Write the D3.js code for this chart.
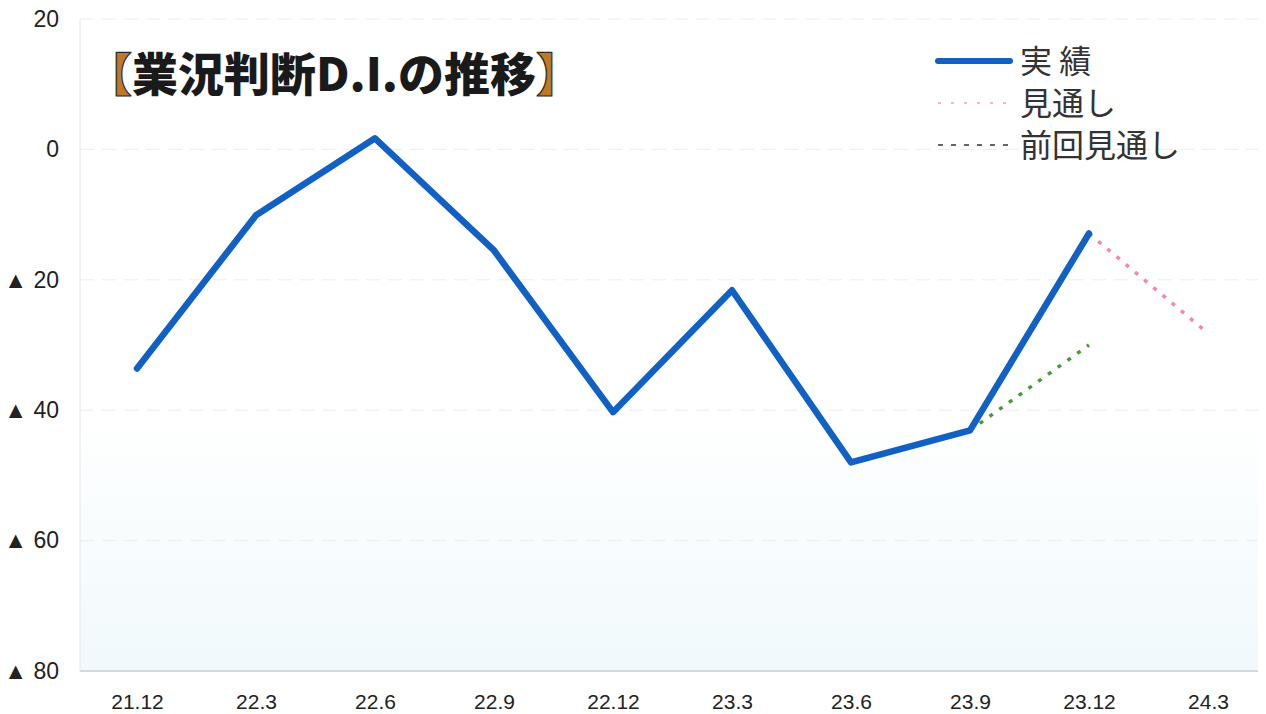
<!DOCTYPE html>
<html><head><meta charset="utf-8">
<script src="https://cdn.jsdelivr.net/npm/d3@7"></script>
<style>body{margin:0;background:#fff}svg{display:block}</style>
</head><body>
<script>
const categories = ["21.12","22.3","22.6","22.9","22.12","23.3","23.6","23.9","23.12","24.3"];
const actual = [-33.6,-10.1,1.7,-15.5,-40.3,-21.6,-48.0,-43.1,-12.9,null];
const outlook = [null,null,null,null,null,null,null,null,-12.9,-28.2];
const prevOutlook = [null,null,null,null,null,null,null,-43.1,-30.0,null];
const yTicks = [20,0,-20,-40,-60,-80];
const legendLabels = ["実 績","見通し","前回見通し"];

const W=1266,H=714;
const svg=d3.select("body").append("svg").attr("width",W).attr("height",H);
const m={l:80,r:8,t:19,b:43};
const x=d3.scalePoint().domain(categories).range([137,1208]);
const y=d3.scaleLinear().domain([-80,20]).range([671,19]);

const defs=svg.append("defs");
const g=defs.append("linearGradient").attr("id","bg").attr("x1",0).attr("y1",0).attr("x2",0).attr("y2",1);
g.append("stop").attr("offset","0%").attr("stop-color","#ffffff");
g.append("stop").attr("offset","60%").attr("stop-color","#ffffff");
g.append("stop").attr("offset","100%").attr("stop-color","#f1f9fc");
svg.append("rect").attr("x",m.l).attr("y",y(20)).attr("width",W-m.l-m.r).attr("height",y(-80)-y(20)).attr("fill","url(#bg)");

// grid
svg.append("g").selectAll("line").data(yTicks).join("line")
  .attr("x1",m.l).attr("x2",W-m.r).attr("y1",d=>y(d)).attr("y2",d=>y(d))
  .attr("stroke",d=>d===-80?"#cccccc":"#ededed").attr("stroke-width",d=>d===-80?1.5:1)
  .attr("stroke-dasharray",d=>d===-80?null:"14,8");
svg.append("line").attr("x1",m.l).attr("x2",m.l).attr("y1",y(20)).attr("y2",y(-80)).attr("stroke","#e6e6e6");

// y axis labels
const yAxis=d3.axisLeft(y).tickValues(yTicks).tickSize(0).tickPadding(0)
  .tickFormat(d=>d<0?"▲ "+(-d):String(d));
const ya=svg.append("g").attr("transform","translate(59,0)").call(yAxis);
ya.select(".domain").remove();
ya.selectAll("text").attr("font-family","Liberation Sans, Arial, sans-serif").attr("font-size",23).attr("fill","#222");

// x axis labels
const xAxis=d3.axisBottom(x).tickSize(0).tickPadding(0);
const xa=svg.append("g").attr("transform","translate(0,702)").call(xAxis);
xa.select(".domain").remove();
xa.selectAll("text").attr("font-family","Liberation Sans, Arial, sans-serif").attr("font-size",21).attr("fill","#222").attr("dy","0.35em");

const line=d3.line().defined(d=>d.v!=null).x(d=>x(d.c)).y(d=>y(d.v));
const mk=a=>categories.map((c,i)=>({c,v:a[i]}));

svg.append("path").datum(mk(prevOutlook)).attr("d",line).attr("fill","none")
  .attr("stroke","#4a9a3a").attr("stroke-width",3.5).attr("stroke-dasharray","4,8");
svg.append("path").datum(mk(outlook)).attr("d",line).attr("fill","none")
  .attr("stroke","#f08aa8").attr("stroke-width",3.5).attr("stroke-dasharray","4,8");
svg.append("path").datum(mk(actual)).attr("d",line).attr("fill","none")
  .attr("stroke","#1160c4").attr("stroke-width",6.5).attr("stroke-linejoin","round").attr("stroke-linecap","round");

// title
const t=svg.append("text").attr("x",86).attr("y",91).attr("font-family","Noto Sans CJK JP, sans-serif")
  .attr("font-weight",900).attr("font-size",46).attr("fill","#1a1a1a");
t.append("tspan").attr("fill","#c07828").attr("stroke","#2a2a2a").attr("stroke-width",1.2).text("【");
t.append("tspan").text("業況判断D.I.の推移");
t.append("tspan").attr("fill","#c07828").attr("stroke","#2a2a2a").attr("stroke-width",1.2).text("】");

// legend
const lg=svg.append("g");
const styles=[{c:"#1160c4",w:6,d:null},{c:"#e0a8b8",w:1.5,d:"3,10"},{c:"#333",w:1.5,d:"5,8"}];
legendLabels.forEach((lab,i)=>{
  const yy=61+i*42;
  lg.append("line").attr("x1",938).attr("x2",1010).attr("y1",yy).attr("y2",yy)
    .attr("stroke",styles[i].c).attr("stroke-width",styles[i].w).attr("stroke-dasharray",styles[i].d).attr("stroke-linecap",i===0?"round":"butt");
  lg.append("text").attr("x",1020).attr("y",yy+12).attr("font-family","Noto Sans CJK JP, sans-serif")
    .attr("font-size",32).attr("fill","#333").text(lab);
});
</script>
</body></html>
